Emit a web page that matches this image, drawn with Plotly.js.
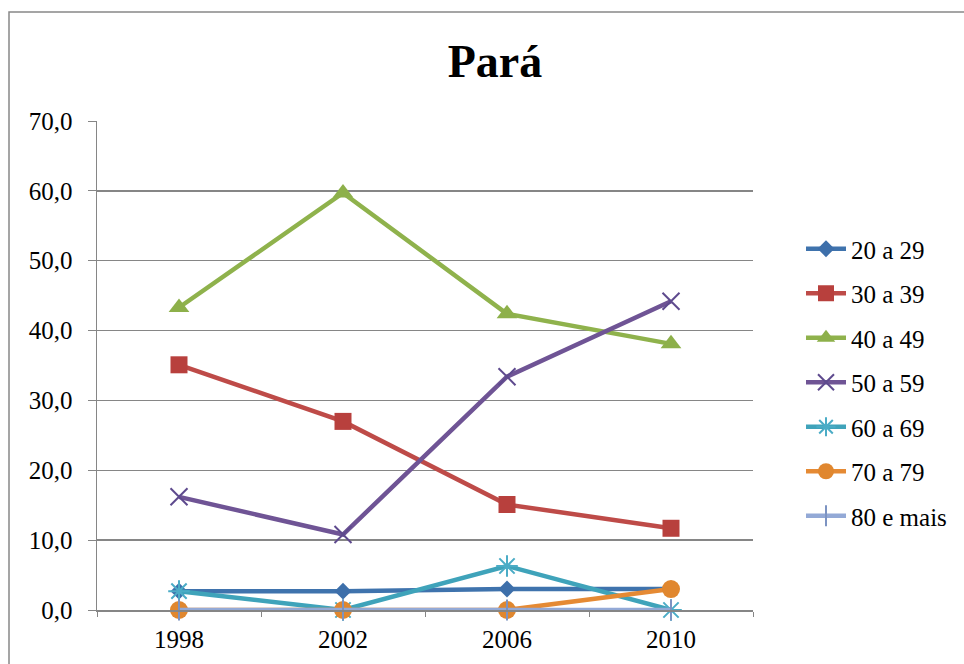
<!DOCTYPE html>
<html>
<head>
<meta charset="utf-8">
<script src="https://cdn.plot.ly/plotly-3.0.1.min.js"></script>
<style>html,body{margin:0;padding:0;background:#fff}#chart{width:964px;height:664px}</style>
</head>
<body>
<div id="chart"></div>
<script>
const years = ['1998', '2002', '2006', '2010'];
const seriesNames = ['20 a 29', '30 a 39', '40 a 49', '50 a 59', '60 a 69', '70 a 79', '80 e mais'];
const v20a29 = [2.7, 2.7, 3.0, 3.0];
const v30a39 = [35.1, 27.0, 15.1, 11.7];
const v40a49 = [43.3, 59.7, 42.4, 38.1];
const v50a59 = [16.2, 10.8, 33.4, 44.2];
const v60a69 = [2.7, 0.0, 6.3, 0.0];
const v70a79 = [0.0, 0.0, 0.0, 3.0];
const v80mais = [0.0, 0.0, 0.0, 0.0];
const yTicks = [0, 10, 20, 30, 40, 50, 60, 70];

const FONT = 'Liberation Serif, Times New Roman, serif';
const values = [v20a29, v30a39, v40a49, v50a59, v60a69, v70a79, v80mais];
const colors = ['#3F73AD', '#BE4B48', '#8FB24C', '#6F5495', '#3FA3BA', '#E58A34', '#93A9D6'];
const markerColors = ['#3D6FAA', '#B8403D', '#8DB04A', '#5E4A8E', '#4BACC6', '#E0872F', '#7C93C2'];
const symbols = ['diamond', 'square', 'triangle-up', 'x-thin-open', 'asterisk-open', 'circle', 'line-ns-open'];
const sizes = [13, 17, 18, 17, 18, 18, 15];

const traces = values.map((v, i) => ({
  type: 'scatter',
  mode: 'lines+markers',
  name: seriesNames[i],
  x: years,
  y: v,
  legendgroup: 'g' + i,
  line: {color: colors[i], width: 4.5},
  marker: {
    symbol: symbols[i],
    size: sizes[i],
    color: markerColors[i],
    line: {color: markerColors[i], width: (symbols[i].indexOf('open') >= 0) ? 2 : 0}
  },
  cliponaxis: false
}));

const layout = {
  width: 964,
  height: 664,
  paper_bgcolor: '#ffffff',
  plot_bgcolor: '#ffffff',
  margin: {l: 97, r: 211, t: 121, b: 54},
  separators: ',.',
  font: {family: FONT, color: '#000', size: 25},
  title: {
    text: '<b>Pará</b>',
    font: {family: FONT, size: 46, color: '#000'},
    xref: 'container', x: 495 / 964, xanchor: 'center',
    yref: 'container', y: 1 - 61 / 664, yanchor: 'middle'
  },
  xaxis: {
    type: 'category',
    range: [-0.5, 3.5],
    showgrid: false,
    showline: true,
    linecolor: '#868686',
    linewidth: 1.5,
    ticks: 'outside',
    tickson: 'boundaries',
    ticklen: 5,
    tickcolor: '#868686',
    tickfont: {family: FONT, size: 25, color: '#000'},
    ticklabelstandoff: 6,
    zeroline: false,
    fixedrange: true
  },
  yaxis: {
    range: [0, 70],
    tickvals: yTicks,
    tickformat: '.1f',
    showgrid: true,
    gridcolor: '#868686',
    gridwidth: 1.5,
    showline: true,
    linecolor: '#868686',
    linewidth: 1.5,
    ticks: 'outside',
    ticklen: 8,
    tickcolor: '#868686',
    tickfont: {family: FONT, size: 25, color: '#000'},
    ticklabelstandoff: 10,
    zeroline: false,
    fixedrange: true
  },
  legend: {
    x: (801 - 97) / 656,
    xanchor: 'left',
    y: 1 - (226 - 121) / 489,
    yanchor: 'top',
    font: {family: FONT, size: 25, color: '#000'},
    tracegroupgap: 9,
    itemwidth: 40,
    bgcolor: 'rgba(0,0,0,0)'
  },
  shapes: [{
    type: 'rect', xref: 'paper', yref: 'paper',
    x0: (9 - 97) / 656, x1: 1.6,
    y0: -0.3, y1: 1 + (121 - 12) / 489,
    line: {color: '#888888', width: 1.5},
    fillcolor: 'rgba(0,0,0,0)',
    layer: 'below'
  }],
  showlegend: true
};

Plotly.newPlot('chart', traces, layout, {displayModeBar: false, staticPlot: true});
</script>
</body>
</html>
